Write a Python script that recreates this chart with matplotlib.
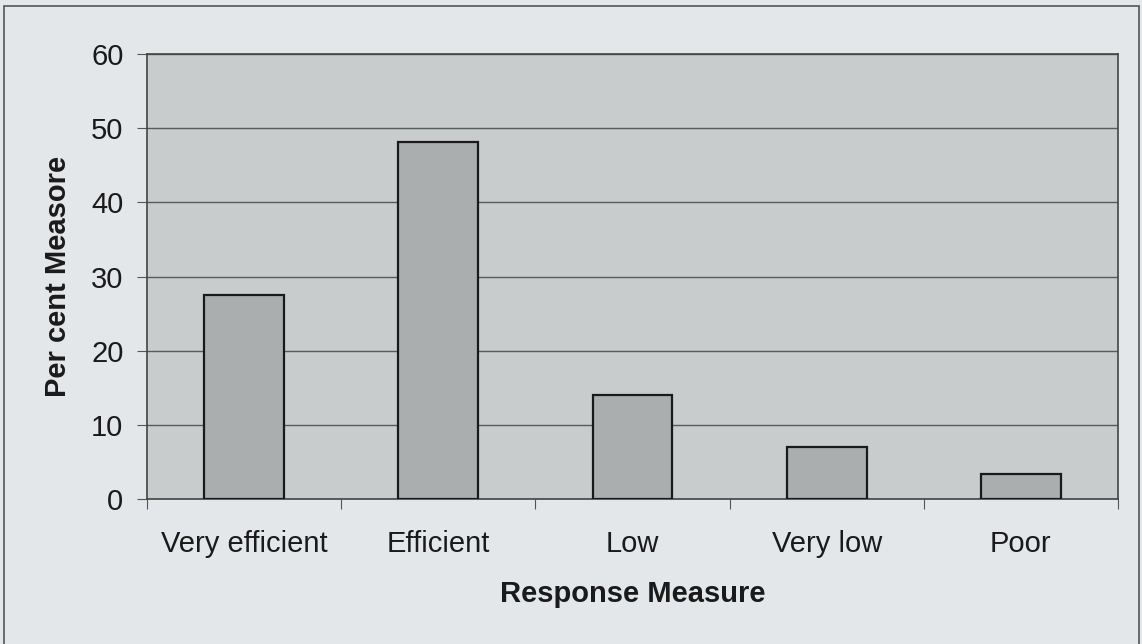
import matplotlib.pyplot as plt
from matplotlib.patches import Rectangle

# ---------------------------
# Dados
# ---------------------------
categorias = ["Very efficient", "Efficient", "Low", "Very low", "Poor"]
percentuais = [27.5, 48.2, 14.0, 7.0, 3.4]
yticks = [0, 10, 20, 30, 40, 50, 60]

plt.rcParams['font.family'] = ['Liberation Sans', 'DejaVu Sans']

fig = plt.figure(figsize=(11.42, 6.44), dpi=100)
fig.patch.set_facecolor('#e3e7ea')

# moldura externa
fig.add_artist(Rectangle((4 / 1142, -0.01), 1135 / 1142, 1 - 6 / 644 + 0.01,
                         transform=fig.transFigure, fill=False,
                         edgecolor='#555555', linewidth=1.2))

ax = fig.add_axes([147 / 1142, 1 - 499 / 644, (1118 - 147) / 1142, (499 - 54) / 644])
ax.set_facecolor('#c8cccc')

x = range(len(categorias))
ax.bar(x, percentuais, width=0.41, color='#aaaeae', edgecolor='#1a1a1a', linewidth=1.6, zorder=3)

ax.set_xlim(-0.5, len(categorias) - 0.5)
ax.set_ylim(0, 60)
ax.set_yticks(yticks)
ax.yaxis.grid(True, color='#555a5a', linewidth=1.0, zorder=0)

# ticks do eixo x nas divisas entre categorias
ax.set_xticks([i + 0.5 for i in range(-1, len(categorias))])
ax.set_xticklabels([])
ax.set_xticks(list(x), minor=True)
ax.set_xticklabels(categorias, minor=True)
ax.tick_params(axis='x', which='minor', length=0, pad=22, labelsize=21, labelcolor='#1a1a1a')
ax.tick_params(axis='x', which='major', length=7, direction='out', color='#555555')
ax.tick_params(axis='y', length=7, direction='out', color='#555555', labelsize=21,
               pad=10, labelcolor='#1a1a1a')

for lado in ['left', 'bottom', 'right', 'top']:
    ax.spines[lado].set_color('#444444')
    ax.spines[lado].set_linewidth(1.2)

ax.set_xlabel('Response Measure', fontsize=21, fontweight='bold', labelpad=16, color='#1a1a1a')
ax.set_ylabel('Per cent Measore', fontsize=21, fontweight='bold', labelpad=14, color='#1a1a1a')

fig.savefig('out.png', dpi=100, facecolor=fig.get_facecolor())
